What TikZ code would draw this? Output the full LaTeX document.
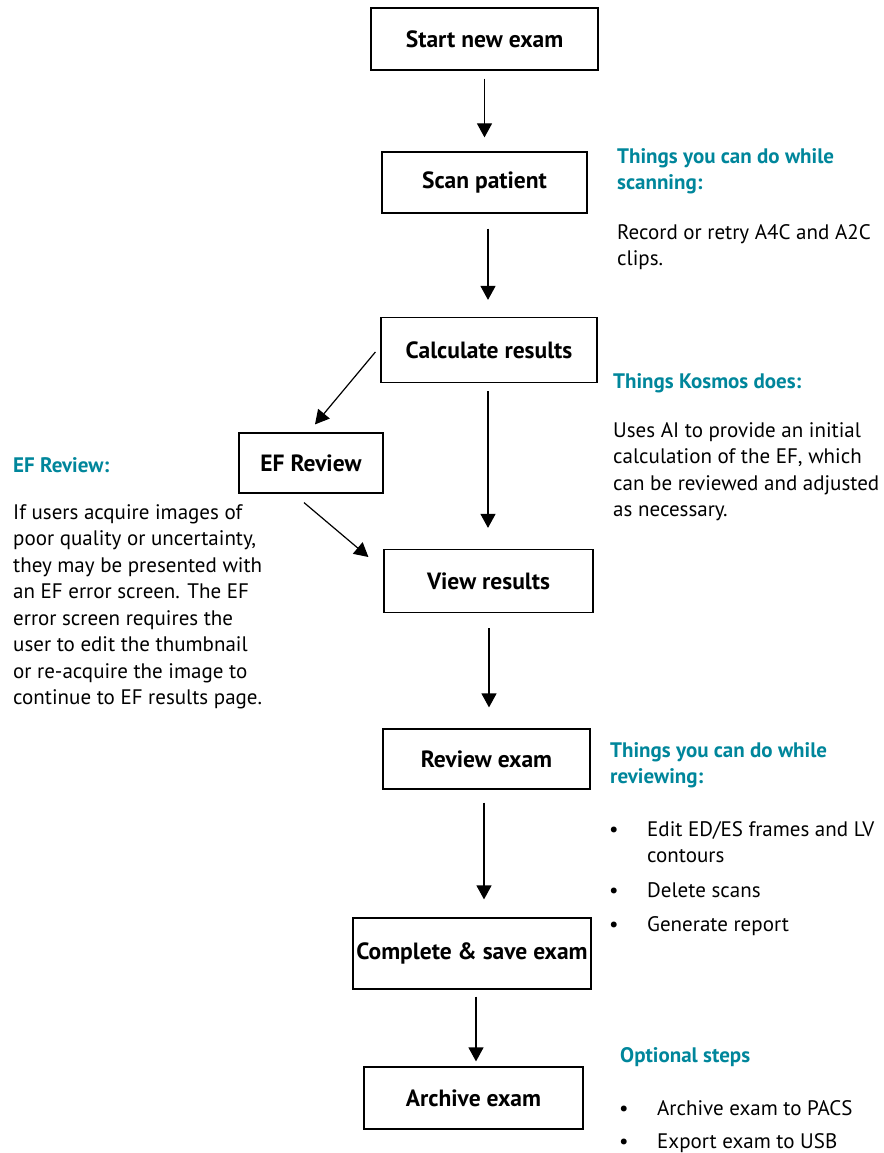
\documentclass[tikz,border=0pt]{standalone}
\usepackage{fontspec}
\setmainfont{PT Sans}
\usetikzlibrary{arrows.meta,calc}
\definecolor{teal1}{RGB}{0,134,155}
\begin{document}
\begin{tikzpicture}[x=1pt,y=-1pt,
  box/.style={draw=black,line width=1.2pt,minimum width=#1,inner sep=0pt,font=\fontsize{23.5}{27}\selectfont\bfseries},
  arr/.style={line width=1.2pt,-{Triangle[width=15pt,length=14pt]}},
  para/.style={anchor=base west,inner sep=0pt,font=\fontsize{21}{26.5}\selectfont},
  head/.style={para,text=teal1,font=\fontsize{21}{26.5}\selectfont\bfseries}]
\useasboundingbox (0,0) rectangle (883,1153);
\node[box=227pt,minimum height=62pt] (start) at (484.5,39) {Start new exam};
\node[box=205pt,minimum height=61pt] (scan) at (484.5,182.5) {Scan patient};
\node[box=216pt,minimum height=65pt] (calc) at (489,350) {Calculate results};
\node[box=144pt,minimum height=60pt] (efr) at (311,463) {EF Review};
\node[box=209pt,minimum height=63pt] (view) at (488.5,581) {View results};
\node[box=207pt,minimum height=60pt] (review) at (486.5,759) {Review exam};
\node[box=238pt,minimum height=71pt] (complete) at (472,953.5) {Complete \& save exam};
\node[box=219pt,minimum height=62pt] (archive) at (473.5,1098) {Archive exam};

\draw[arr,shorten <=8pt,shorten >=14pt] (start.south) -- (scan.north);
\draw[arr,shorten <=15pt,shorten >=17pt] ([xshift=3.5pt]scan.south) -- ([xshift=-1pt]calc.north);
\draw[arr,shorten <=8pt,shorten >=21pt] ([xshift=-1pt]calc.south) -- ([xshift=-0.5pt]view.north);
\draw[arr,shorten <=15pt,shorten >=21pt] ([xshift=0.5pt]view.south) -- ([xshift=2.5pt]review.north);
\draw[arr,shorten <=13pt,shorten >=18pt] ([xshift=-2.5pt]review.south) -- ([xshift=12pt]complete.north);
\draw[arr,shorten <=7pt,shorten >=5pt] ([xshift=4pt]complete.south) -- ([xshift=2.5pt]archive.north);
\draw[arr] ([xshift=-5pt,yshift=-2pt]calc.west) -- ([xshift=4pt,yshift=8pt]efr.north);
\draw[arr] ([xshift=-7pt,yshift=-9pt]efr.south) -- ([xshift=-15pt,yshift=24pt]view.west);

\node[head] (h1) at (617,163) {\parbox[t]{260pt}{Things you can do while\\scanning:}};
\node[para] (t1) at (617,239) {\parbox[t]{260pt}{Record or retry A4C and A2C\\clips.}};
\node[head] (h2) at (613,388) {Things Kosmos does:};
\node[para] (t2) at (613,437) {\parbox[t]{270pt}{Uses AI to provide an initial\\calculation of the EF, which\\can be reviewed and adjusted\\as necessary.}};
\node[head] (h3) at (13,472) {EF Review:};
\node[para] (t3) at (13,519) {\parbox[t]{260pt}{If users acquire images of\\poor quality or uncertainty,\\they may be presented with\\an EF error screen. The EF\\error screen requires the\\user to edit the thumbnail\\or re-acquire the image to\\continue to EF results page.}};
\node[head] (h4) at (610,757) {\parbox[t]{270pt}{Things you can do while\\reviewing:}};
\node[para] (b1) at (609,836) {\textbullet};
\node[para] (t4) at (647,836) {\parbox[t]{236pt}{Edit ED/ES frames and LV\\contours}};
\node[para] (b2) at (609,897) {\textbullet};
\node[para] (t5) at (647,897) {Delete scans};
\node[para] (b3) at (609,931) {\textbullet};
\node[para] (t6) at (647,931) {Generate report};
\node[head] (h5) at (620,1062) {Optional steps};
\node[para] (b4) at (619,1115) {\textbullet};
\node[para] (t7) at (657,1115) {Archive exam to PACS};
\node[para] (b5) at (619,1148) {\textbullet};
\node[para] (t8) at (657,1148) {Export exam to USB};
\end{tikzpicture}
\end{document}
